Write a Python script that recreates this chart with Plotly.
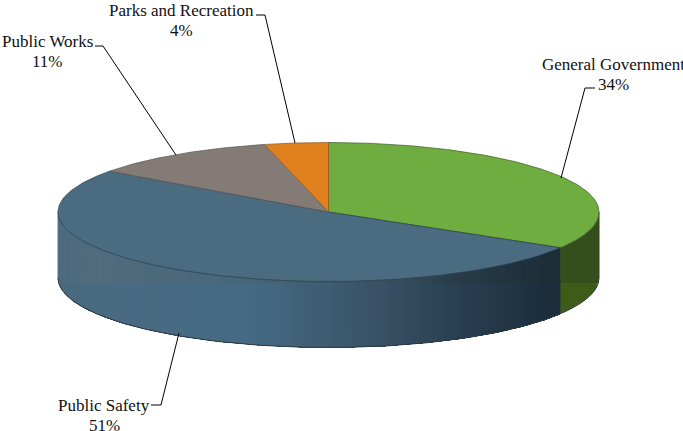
import numpy as np
import plotly.graph_objects as go

categories = ["General Government", "Public Safety", "Public Works", "Parks and Recreation"]
shares = [33.6, 51.4, 11.2, 3.8]
top_colors = ["#70AD40", "#4A6B80", "#857B76", "#E0801E"]

CX, CY, RX, RY, DEPTH = 328.5, 212, 270.5, 69.5, 66
BAND_Y = 283

def ell(theta, dy=0):
    return CX + RX * np.sin(theta), CY - RY * np.cos(theta) + dy

def lerp_color(stops, t):
    ts = [s[0] for s in stops]
    r = np.interp(t, ts, [s[1][0] for s in stops])
    g = np.interp(t, ts, [s[1][1] for s in stops])
    b = np.interp(t, ts, [s[1][2] for s in stops])
    return f"rgb({r:.0f},{g:.0f},{b:.0f})"

fracs = np.cumsum([0] + shares) / sum(shares)
angles = fracs * 2 * np.pi

fig = go.Figure()

def poly(xs, ys, color, line=None, width=1):
    fig.add_trace(go.Scatter(x=xs, y=ys, mode="lines", fill="toself", fillcolor=color,
                             line=dict(color=line or color, width=width),
                             hoverinfo="skip", showlegend=False))

# side wall shading, by position across the pie (x fraction 0..1)
blue_up = [(0, (76, 107, 128)), (0.06, (80, 108, 126)), (0.35, (72, 102, 122)), (0.5, (62, 88, 106)),
           (0.62, (56, 78, 94)), (0.75, (38, 58, 72)), (0.9, (30, 46, 57)), (1, (28, 44, 54))]
blue_lo = [(0, (72, 104, 126)), (0.06, (74, 106, 128)), (0.35, (70, 106, 132)), (0.5, (62, 92, 114)),
           (0.62, (54, 78, 98)), (0.75, (40, 62, 80)), (0.9, (28, 46, 60)), (1, (26, 42, 54))]
green_up = [(0, (50, 76, 26)), (1, (52, 78, 28))]
green_lo = [(0, (60, 96, 20)), (1, (62, 92, 24))]

def side(a_start, a_end, up, lo, n):
    # painter's order: every strip runs on to the far end, the next one paints over it
    edges = np.linspace(a_start, a_end, n + 1)
    for i in range(n):
        th = np.linspace(edges[i], a_end, max(2 * (n - i) + 1, 41))
        x, ytop = ell(th)
        ybot = ytop + DEPTH
        t = (ell(edges[i])[0] + ell(edges[i + 1])[0]) / 2
        t = (t - (CX - RX)) / (2 * RX)
        yb_band = np.maximum(ytop, np.minimum(BAND_Y, ybot))
        poly(np.r_[x, x[::-1]], np.r_[ytop, yb_band[::-1]], lerp_color(up, t), width=0)
        poly(np.r_[x, x[::-1]], np.r_[yb_band, ybot[::-1]], lerp_color(lo, t), width=0)

# visible wall: from the left extreme along the front to the right extreme
side(3 * np.pi / 2, angles[1], blue_up, blue_lo, 110)
side(angles[1], np.pi / 2, green_up, green_lo, 1)

# rim outlines of the wall
th = np.linspace(np.pi / 2, 3 * np.pi / 2, 200)
xb, yb = ell(th, DEPTH)
fig.add_trace(go.Scatter(x=xb, y=yb, mode="lines", line=dict(color="#2a3a44", width=1),
                         hoverinfo="skip", showlegend=False))
x0, y0 = ell(np.array([np.pi / 2, 3 * np.pi / 2]))
for xv, yv, c in [(x0[0], y0[0], "#2f4519"), (x0[1], y0[1], "#5a7486")]:
    fig.add_trace(go.Scatter(x=[xv, xv], y=[yv, yv + DEPTH], mode="lines", line=dict(color=c, width=1),
                             hoverinfo="skip", showlegend=False))
xs, ys = ell(np.array([angles[1]]))
fig.add_trace(go.Scatter(x=[xs[0], xs[0]], y=[ys[0], ys[0] + DEPTH], mode="lines",
                         line=dict(color="#2c4a2c", width=1), hoverinfo="skip", showlegend=False))

# top faces
edge_colors = ["#3a5a22", "#2a3f4e", "#5a5452", "#8a5a22"]
for i in range(len(shares)):
    th = np.linspace(angles[i], angles[i + 1], 160)
    x, y = ell(th)
    poly(np.r_[CX, x, CX], np.r_[CY, y, CY], top_colors[i], line=edge_colors[i], width=0.7)

# leader lines
leaders_x = [[561, 585, 595], [179, 161, 151], [176, 103, 95], [295, 265, 256]]
leaders_y = [[178, 88, 88], [333, 405, 405], [155, 46, 46], [143, 15, 15]]
for lx, ly in zip(leaders_x, leaders_y):
    fig.add_trace(go.Scatter(x=lx, y=ly, mode="lines", line=dict(color="#000000", width=1),
                             hoverinfo="skip", showlegend=False))

# labels
label_x = [613, 104, 47, 181]
label_y = [64, 405, 41, 10]
LINE_GAP = 20
for name, s, lx, ly in zip(categories, shares, label_x, label_y):
    for txt, yy in ((name, ly), (f"{round(s)}%", ly + LINE_GAP)):
        fig.add_annotation(x=lx, y=yy, text=txt, showarrow=False, xanchor="center", yanchor="middle",
                           font=dict(family="Liberation Serif", size=17, color="#111111"))

fig.update_layout(width=683, height=431, margin=dict(l=0, r=0, t=0, b=0), autosize=False,
                  paper_bgcolor="white", plot_bgcolor="white", showlegend=False,
                  xaxis=dict(range=[0, 683], visible=False, fixedrange=True),
                  yaxis=dict(range=[431, 0], visible=False, fixedrange=True))
fig.write_html("out.html", config={"displayModeBar": False},
               post_script="document.body.style.margin='0';document.body.style.overflow='hidden';")
